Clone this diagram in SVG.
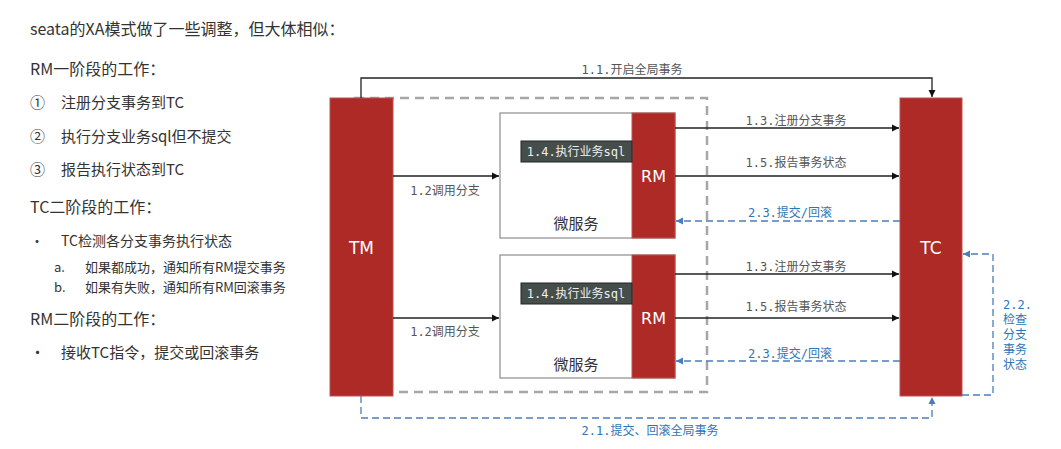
<svg xmlns="http://www.w3.org/2000/svg" width="1061" height="449" viewBox="0 0 1061 449">
<style>
.t{font-family:"Noto Sans CJK SC","Noto Sans",sans-serif;fill:#333}
.m{font-family:"DejaVu Sans Mono","Noto Sans CJK SC",monospace;font-size:12px;fill:#555}
.b{font-family:"DejaVu Sans Mono","Noto Sans CJK SC",monospace;font-size:12px;fill:#2E75B6}
.red{fill:#AD2A27;stroke:#C05050;stroke-width:1}
.w{font-family:"DejaVu Sans","Noto Sans CJK SC",sans-serif;fill:#fff}
.solid{stroke:#222;stroke-width:1.3;fill:none}
.dash{stroke:#4A7EBB;stroke-width:1.3;fill:none;stroke-dasharray:7 4}
</style>
<defs>
<marker id="a" markerWidth="8" markerHeight="8" refX="7" refY="4" orient="auto" markerUnits="userSpaceOnUse"><path d="M0,0.5 L7,4 L0,7.5z" fill="#111"/></marker>
<marker id="ab" markerWidth="8" markerHeight="8" refX="7" refY="4" orient="auto" markerUnits="userSpaceOnUse"><path d="M0,0.5 L7,4 L0,7.5z" fill="#4A7EBB"/></marker>
</defs>
<rect width="1061" height="449" fill="#fff"/>
<g id="notes" class="t">
<text x="30" y="35" font-size="16">seata的XA模式做了一些调整，但大体相似：</text>
<text x="30" y="75" font-size="16">RM一阶段的工作：</text>
<text x="30" y="108" font-size="15">①</text><text x="61" y="108" font-size="15">注册分支事务到TC</text>
<text x="30" y="142" font-size="15">②</text><text x="61" y="142" font-size="15">执行分支业务sql但不提交</text>
<text x="30" y="175" font-size="15">③</text><text x="61" y="175" font-size="15">报告执行状态到TC</text>
<text x="30" y="213" font-size="16">TC二阶段的工作：</text>
<text x="30" y="246" font-size="14">•</text><text x="61" y="246" font-size="14">TC检测各分支事务执行状态</text>
<text x="54" y="272" font-size="13">a.</text><text x="85" y="272" font-size="13">如果都成功，通知所有RM提交事务</text>
<text x="54" y="292" font-size="13">b.</text><text x="85" y="292" font-size="13">如果有失败，通知所有RM回滚事务</text>
<text x="30" y="325" font-size="16">RM二阶段的工作：</text>
<text x="30" y="358" font-size="15">•</text><text x="61" y="358" font-size="15">接收TC指令，提交或回滚事务</text>
</g>
<rect x="355" y="98" width="352" height="294" fill="none" stroke="#A6A6A6" stroke-width="2.5" stroke-dasharray="9 6"/>
<g id="TM"><rect class="red" x="330" y="98" width="63" height="298"/><text class="w" x="361.5" y="254" font-size="17" text-anchor="middle">TM</text></g>
<g id="TC"><rect class="red" x="900" y="98" width="62" height="298"/><text class="w" x="931" y="254" font-size="17" text-anchor="middle">TC</text></g>
<g id="ms1"><rect x="500" y="113" width="175" height="125" fill="#fff" stroke="#777"/><rect class="red" x="632" y="113" width="43" height="125"/>
<text class="w" x="653.5" y="182" font-size="16" text-anchor="middle">RM</text>
<text class="t" x="576" y="229" font-size="15" text-anchor="middle" fill="#444">微服务</text>
<rect x="521" y="141" width="111" height="21" fill="#464E4B" stroke="#222"/><text x="576" y="156" font-size="12" text-anchor="middle" style="font-family:'DejaVu Sans Mono','Noto Sans CJK SC',monospace;fill:#eee">1.4.执行业务sql</text></g>
<g id="ms2"><rect x="500" y="255" width="175" height="123" fill="#fff" stroke="#777"/><rect class="red" x="632" y="255" width="43" height="123"/>
<text class="w" x="653.5" y="324" font-size="16" text-anchor="middle">RM</text>
<text class="t" x="576" y="370" font-size="15" text-anchor="middle" fill="#444">微服务</text>
<rect x="521" y="283" width="111" height="21" fill="#464E4B" stroke="#222"/><text x="576" y="298" font-size="12" text-anchor="middle" style="font-family:'DejaVu Sans Mono','Noto Sans CJK SC',monospace;fill:#eee">1.4.执行业务sql</text></g>
<g id="connectors">
<path class="solid" d="M361,98 V78 H932 V97" marker-end="url(#a)"/>
<text class="m" x="632" y="74" text-anchor="middle">1.1.开启全局事务</text>
<path class="solid" d="M393,176 H499" marker-end="url(#a)"/><text class="m" x="445" y="195" text-anchor="middle">1.2调用分支</text>
<path class="solid" d="M393,318 H499" marker-end="url(#a)"/><text class="m" x="445" y="336" text-anchor="middle">1.2调用分支</text>
<path class="solid" d="M675,128 H899" marker-end="url(#a)"/><text class="m" x="796" y="125" text-anchor="middle">1.3.注册分支事务</text>
<path class="solid" d="M675,176 H899" marker-end="url(#a)"/><text class="m" x="796" y="167" text-anchor="middle">1.5.报告事务状态</text>
<path class="dash" d="M900,221 H676" marker-end="url(#ab)"/><text class="b" x="790" y="217" text-anchor="middle">2.3.提交/回滚</text>
<path class="solid" d="M675,274 H899" marker-end="url(#a)"/><text class="m" x="796" y="271" text-anchor="middle">1.3.注册分支事务</text>
<path class="solid" d="M675,318 H899" marker-end="url(#a)"/><text class="m" x="796" y="311" text-anchor="middle">1.5.报告事务状态</text>
<path class="dash" d="M900,361 H676" marker-end="url(#ab)"/><text class="b" x="790" y="358" text-anchor="middle">2.3.提交/回滚</text>
<path class="dash" d="M361,396 V418 H932 V397" marker-end="url(#ab)"/><text class="b" x="650" y="435" text-anchor="middle">2.1.提交、回滚全局事务</text>
<path class="dash" d="M962,395 H993 V254 H963" marker-end="url(#ab)"/>
<text class="b" x="1003" y="309">2.2.</text><text class="b" x="1003" y="324">检查</text><text class="b" x="1003" y="339">分支</text><text class="b" x="1003" y="354">事务</text><text class="b" x="1003" y="369">状态</text>
</g>
</svg>
